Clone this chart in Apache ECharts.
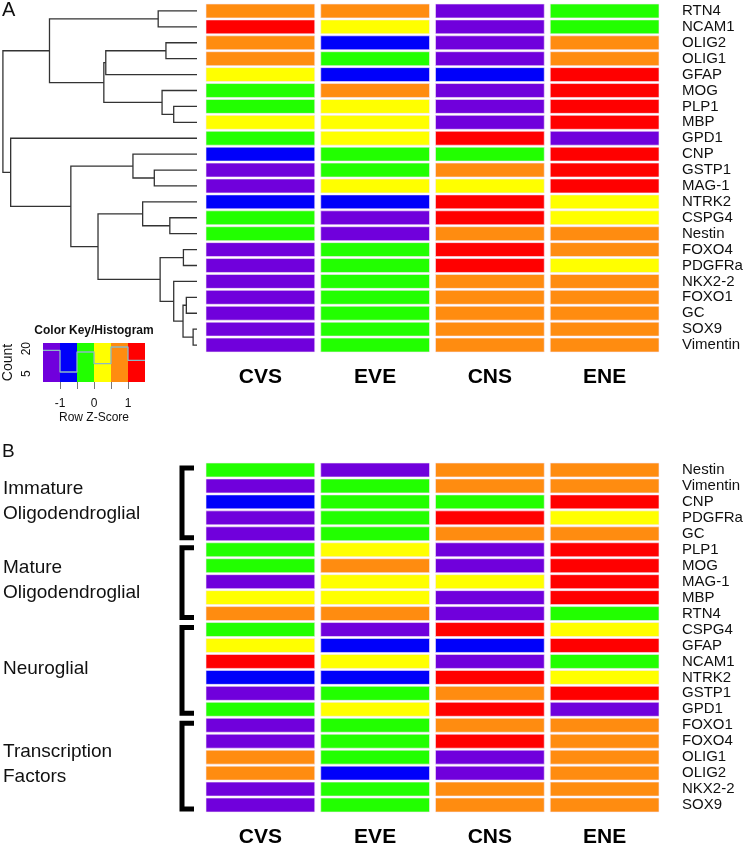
<!DOCTYPE html>
<html>
<head>
<meta charset="utf-8">
<script src="https://cdn.jsdelivr.net/npm/echarts@6.0.0/dist/echarts.min.js"></script>
<style>
  html, body { margin: 0; padding: 0; background: #fff; }
  #chart { width: 750px; height: 849px; }
</style>
</head>
<body>
<div id="chart"></div>
<script>
// samples (columns)
const groups = ['CVS', 'EVE', 'CNS', 'ENE'];

// panel A row order (dendrogram order)
const genesA = ['RTN4', 'NCAM1', 'OLIG2', 'OLIG1', 'GFAP', 'MOG', 'PLP1', 'MBP', 'GPD1', 'CNP', 'GSTP1',
  'MAG-1', 'NTRK2', 'CSPG4', 'Nestin', 'FOXO4', 'PDGFRa', 'NKX2-2', 'FOXO1', 'GC', 'SOX9', 'Vimentin'];

// colour-key bin of each cell, in genesA order (0 = lowest z-score ... 5 = highest)
const binCVS = [4, 5, 4, 4, 3, 2, 2, 3, 2, 1, 0, 0, 1, 2, 2, 0, 0, 0, 0, 0, 0, 0];
const binEVE = [4, 3, 1, 2, 1, 4, 3, 3, 3, 2, 2, 3, 1, 0, 0, 2, 2, 2, 2, 2, 2, 2];
const binCNS = [0, 0, 0, 0, 1, 0, 0, 0, 5, 2, 4, 3, 5, 5, 4, 5, 5, 4, 4, 4, 4, 4];
const binENE = [2, 2, 4, 4, 5, 5, 5, 5, 0, 5, 5, 5, 3, 3, 4, 4, 3, 4, 4, 4, 4, 4];

// panel B row order, grouped into modules
const genesB = ['Nestin', 'Vimentin', 'CNP', 'PDGFRa', 'GC', 'PLP1', 'MOG', 'MAG-1', 'MBP', 'RTN4',
  'CSPG4', 'GFAP', 'NCAM1', 'NTRK2', 'GSTP1', 'GPD1', 'FOXO1', 'FOXO4', 'OLIG1', 'OLIG2', 'NKX2-2', 'SOX9'];
const moduleNames = ['Immature\nOligodendroglial', 'Mature\nOligodendroglial', 'Neuroglial', 'Transcription\nFactors'];
const moduleSizes = [5, 5, 6, 6];

// colour key: Row Z-Score breaks and colours
const zBreaks = [-1.5, -1, -0.5, 0, 0.5, 1, 1.5];
const keyColors = ['#7000dc', '#0000fa', '#22ff00', '#ffff00', '#ff8c10', '#ff0000'];

// row dendrogram merges: [child, child, height]; numbers refer to earlier merges
const merges = [
  ['RTN4', 'NCAM1', 2.0],
  ['OLIG2', 'OLIG1', 1.6],
  [1, 'GFAP', 4.7],
  ['PLP1', 'MBP', 1.2],
  ['MOG', 3, 1.8],
  [2, 4, 4.8],
  [0, 5, 7.6],
  ['GSTP1', 'MAG-1', 2.2],
  ['CNP', 7, 3.3],
  ['CSPG4', 'Nestin', 1.4],
  ['NTRK2', 9, 2.8],
  ['FOXO4', 'PDGFRa', 0.7],
  ['FOXO1', 'GC', 0.55],
  ['SOX9', 'Vimentin', 0.2],
  [12, 13, 0.72],
  ['NKX2-2', 14, 1.2],
  [11, 15, 1.9],
  [10, 16, 5.1],
  [8, 17, 6.5],
  ['GPD1', 18, 9.6],
  [6, 19, 10.0]
];

const FONT = 'Arial, "Liberation Sans", sans-serif';
const binCols = [binCVS, binEVE, binCNS, binENE];

// cells
const cellsA = [];
const cellsB = [];
genesA.forEach((g, r) => binCols.forEach((col, c) => cellsA.push([c, r, col[r]])));
genesB.forEach((g, r) => {
  const i = genesA.indexOf(g);
  binCols.forEach((col, c) => cellsB.push([c, r, col[i]]));
});

// histogram counts for the key
const counts = keyColors.map(() => 0);
binCols.forEach(col => col.forEach(b => counts[b]++));
const histLine = zBreaks.map((z, i) => [z, counts[Math.min(i, counts.length - 1)]]);
const keyBins = keyColors.map((c, i) => [zBreaks[i], zBreaks[i + 1], i]);

// dendrogram segments
const nodes = [];
const pos = c => typeof c === 'number' ? nodes[c] : { h: 0, y: genesA.indexOf(c) + 0.5 };
const segs = merges.map(([a, b, h]) => {
  const pa = pos(a), pb = pos(b);
  nodes.push({ h: h, y: (pa.y + pb.y) / 2 });
  return { coords: [[pa.h, pa.y], [h, pa.y], [h, pb.y], [pb.h, pb.y]] };
});

// module brackets
const modules = [];
let start = 0;
moduleSizes.forEach((n, i) => { modules.push([start, start + n - 1, i]); start += n; });

function cellSeries(axisIdx, data) {
  return {
    type: 'custom',
    xAxisIndex: axisIdx,
    yAxisIndex: axisIdx,
    data: data,
    encode: { x: 0, y: 1 },
    renderItem: function (params, api) {
      const c = api.coord([api.value(0), api.value(1)]);
      const s = api.size([1, 1]);
      return {
        type: 'rect',
        shape: { x: c[0] - s[0] / 2 + 3, y: c[1] - s[1] / 2 + 1, width: s[0] - 6, height: s[1] - 2 },
        style: { fill: keyColors[api.value(2)], stroke: '#f6e8f6', lineWidth: 0.6 }
      };
    }
  };
}

function heatAxes(idx, genes) {
  return {
    x: {
      gridIndex: idx, type: 'category', data: groups, position: 'bottom',
      axisLine: { show: false }, axisTick: { show: false },
      axisLabel: { fontSize: 21, fontWeight: 'bold', color: '#000', margin: 14, fontFamily: FONT }
    },
    y: {
      gridIndex: idx, type: 'category', data: genes, inverse: true, position: 'right',
      axisLine: { show: false }, axisTick: { show: false },
      axisLabel: { interval: 0, fontSize: 15, color: '#111', margin: 20, fontFamily: FONT }
    }
  };
}

const axA = heatAxes(1, genesA);
const axB = heatAxes(3, genesB);

const chart = echarts.init(document.getElementById('chart'));
chart.setOption({
  animation: false,
  backgroundColor: '#fff',
  textStyle: { fontFamily: FONT },
  grid: [
    { left: 0, top: 3, width: 197, height: 350 },
    { left: 203, top: 3, width: 459, height: 350 },
    { left: 43, top: 343, width: 102, height: 39 },
    { left: 203, top: 462, width: 459, height: 351 }
  ],
  xAxis: [
    { gridIndex: 0, type: 'value', min: 0, max: 10.15, inverse: true, show: false },
    axA.x,
    {
      gridIndex: 2, type: 'value', min: -1.5, max: 1.5, interval: 0.5,
      splitLine: { show: false }, axisLine: { show: false },
      axisTick: { show: true, length: 7, customValues: [-1, -0.5, 0, 0.5, 1], lineStyle: { color: '#777' } },
      axisLabel: { customValues: [-1, 0, 1], fontSize: 12, color: '#111', margin: 16 },
      name: 'Row Z-Score', nameLocation: 'middle', nameGap: 30,
      nameTextStyle: { fontSize: 12, color: '#111' }
    },
    axB.x
  ],
  yAxis: [
    { gridIndex: 0, type: 'value', min: 0, max: 22, inverse: true, show: false },
    axA.y,
    {
      gridIndex: 2, type: 'value', min: 0, max: 23.4,
      splitLine: { show: false }, axisLine: { show: false },
      axisTick: { show: true, length: 7, customValues: [5, 10, 15, 20], lineStyle: { color: '#777' } },
      axisLabel: { customValues: [5, 20], rotate: 90, fontSize: 12, color: '#111', margin: 10 },
      name: 'Count', nameLocation: 'middle', nameRotate: 90, nameGap: 28,
      nameTextStyle: { fontSize: 14, color: '#111' }
    },
    axB.y
  ],
  graphic: [
    { type: 'text', left: 2, top: 0, style: { text: 'A', font: '20px ' + FONT, fill: '#111' } },
    { type: 'text', left: 2, top: 442, style: { text: 'B', font: '19px ' + FONT, fill: '#111' } },
    { type: 'text', x: 94, y: 331, style: { text: 'Color Key/Histogram', font: 'bold 12px ' + FONT, fill: '#111', align: 'center', verticalAlign: 'middle' } }
  ],
  series: [
    {
      type: 'lines', coordinateSystem: 'cartesian2d', xAxisIndex: 0, yAxisIndex: 0,
      polyline: true, silent: true, data: segs,
      lineStyle: { color: '#333', width: 1.3, opacity: 1 }
    },
    cellSeries(1, cellsA),
    {
      type: 'custom', xAxisIndex: 2, yAxisIndex: 2, data: keyBins, silent: true,
      renderItem: function (params, api) {
        const a = api.coord([api.value(0), 23.4]);
        const b = api.coord([api.value(1), 0]);
        return { type: 'rect', shape: { x: a[0], y: a[1], width: b[0] - a[0], height: b[1] - a[1] }, style: { fill: keyColors[api.value(2)] } };
      }
    },
    {
      type: 'line', xAxisIndex: 2, yAxisIndex: 2, data: histLine, step: 'end',
      symbol: 'none', silent: true, lineStyle: { color: '#8cb8c4', width: 1.3 }
    },
    cellSeries(3, cellsB),
    {
      type: 'custom', xAxisIndex: 3, yAxisIndex: 3, data: modules, clip: false, silent: true,
      renderItem: function (params, api) {
        const s = api.size([0, 1])[1];
        const top = api.coord([0, api.value(0)])[1] - s / 2 + 6;
        const bot = api.coord([0, api.value(1)])[1] + s / 2 - 4;
        return {
          type: 'group',
          children: [
            {
              type: 'polyline',
              shape: { points: [[194, top], [182, top], [182, bot], [194, bot]] },
              style: { stroke: '#000', lineWidth: 5, fill: null }
            },
            {
              type: 'text', x: 3, y: (top + bot) / 2 - 2,
              style: { text: moduleNames[api.value(2)], font: '19px ' + FONT, fill: '#111', verticalAlign: 'middle', lineHeight: 25 }
            }
          ]
        };
      }
    }
  ]
});
</script>
</body>
</html>
